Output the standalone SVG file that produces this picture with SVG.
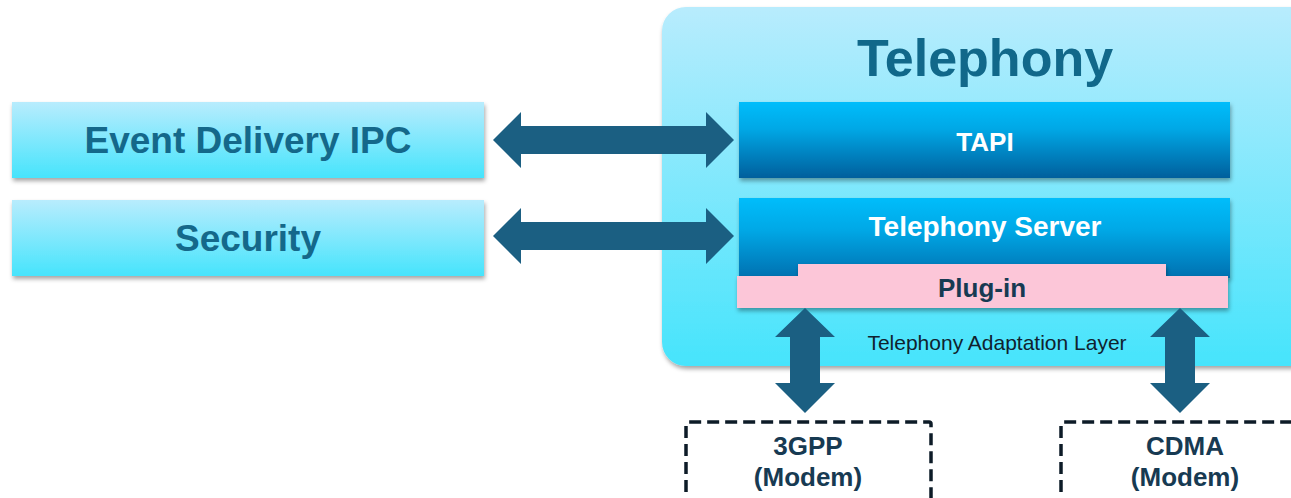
<svg xmlns="http://www.w3.org/2000/svg" width="1291" height="498" viewBox="0 0 1291 498">
<defs>
<linearGradient id="gLight" x1="0" y1="0" x2="0" y2="1">
<stop offset="0" stop-color="#b8ecfd"/>
<stop offset="1" stop-color="#46e4fc"/>
</linearGradient>
<linearGradient id="gBlue" x1="0" y1="0" x2="0" y2="1">
<stop offset="0" stop-color="#00bdfb"/>
<stop offset="0.35" stop-color="#00a8e6"/>
<stop offset="1" stop-color="#005f9c"/>
</linearGradient>
<linearGradient id="gServer" x1="0" y1="0" x2="0" y2="1">
<stop offset="0" stop-color="#00bdfb"/>
<stop offset="0.4" stop-color="#00a8e6"/>
<stop offset="1" stop-color="#0070b0"/>
</linearGradient>
<filter id="sh" x="-5%" y="-10%" width="110%" height="130%">
<feDropShadow dx="1" dy="3" stdDeviation="2" flood-color="#000" flood-opacity="0.35"/>
</filter>
<style>
.b{font-family:"Liberation Sans",Arial,sans-serif;font-weight:bold;text-anchor:middle}
.r{font-family:"Liberation Sans",Arial,sans-serif;text-anchor:middle}
.arr{fill:#1b5f82}
.dash{fill:none;stroke:#0d1b27;stroke-width:3.5;stroke-dasharray:12 6}
</style>
</defs>
<rect width="1291" height="498" fill="#ffffff"/>

<g id="telephony">
<rect x="662" y="7" width="660" height="359" rx="24" fill="url(#gLight)" filter="url(#sh)"/>
<text class="b" x="985" y="76" font-size="52" fill="#11688a">Telephony</text>
</g>

<g id="event-delivery-ipc">
<rect x="12" y="102" width="472" height="76" fill="url(#gLight)" filter="url(#sh)"/>
<text class="b" x="248" y="153" font-size="37" fill="#14688a">Event Delivery IPC</text>
</g>

<g id="security">
<rect x="12" y="200" width="472" height="76" fill="url(#gLight)" filter="url(#sh)"/>
<text class="b" x="248" y="251" font-size="37" fill="#14688a">Security</text>
</g>

<g id="tapi">
<rect x="739" y="102" width="491" height="76" fill="url(#gBlue)" filter="url(#sh)"/>
<text class="b" x="985" y="151" font-size="26" fill="#ffffff">TAPI</text>
</g>

<g id="telephony-server">
<rect x="739" y="198" width="491" height="80" fill="url(#gServer)" filter="url(#sh)"/>
<text class="b" x="985" y="236" font-size="28" fill="#ffffff">Telephony Server</text>
</g>

<g id="plug-in">
<path d="M737 276 H798 V264 H1166 V276 H1228 V308 H737 Z" fill="#fcc6d8" filter="url(#sh)"/>
<text class="b" x="982" y="297" font-size="26" fill="#173a52">Plug-in</text>
</g>

<g id="adaptation-layer">
<text class="r" x="997" y="350" font-size="21" fill="#10222e">Telephony Adaptation Layer</text>
</g>

<g id="modem-3gpp">
<path class="dash" d="M686 510 V424 Q686 422 688 422 H929 Q931 422 931 424 V510"/>
<text class="b" x="808" y="455" font-size="26" fill="#173a52">3GPP</text>
<text class="b" x="808" y="486" font-size="26" fill="#173a52">(Modem)</text>
</g>

<g id="modem-cdma">
<path class="dash" d="M1061 510 V424 Q1061 422 1063 422 H1300"/>
<text class="b" x="1185" y="455" font-size="26" fill="#173a52">CDMA</text>
<text class="b" x="1185" y="486" font-size="26" fill="#173a52">(Modem)</text>
</g>

<g id="connectors">
<polygon class="arr" points="493,140 521,112 521,126 706,126 706,112 734,140 706,168 706,154 521,154 521,168"/>
<polygon class="arr" points="493,236 521,208 521,222 706,222 706,208 734,236 706,264 706,250 521,250 521,264"/>
<polygon class="arr" points="805,308 835,337 820,337 820,383 835,383 805,413 775,383 790,383 790,337 775,337"/>
<polygon class="arr" points="1180,308 1210,337 1195,337 1195,383 1210,383 1180,413 1150,383 1165,383 1165,337 1150,337"/>
</g>
</svg>
